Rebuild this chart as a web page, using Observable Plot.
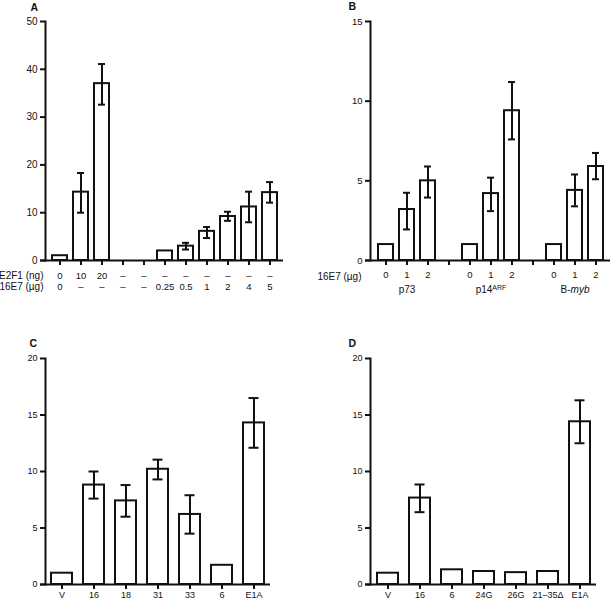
<!DOCTYPE html>
<html><head><meta charset="utf-8">
<script src="https://cdn.jsdelivr.net/npm/d3@7"></script>
<script src="https://cdn.jsdelivr.net/npm/@observablehq/plot@0.6"></script>
<style>
body{margin:0;background:#fff;}
#wrap{position:relative;width:614px;height:602px;overflow:hidden;background:#fff;}
#wrap > div, #wrap > svg{position:absolute;}
</style></head><body><div id="wrap"></div>
<script>
// ---------- Panel A ----------
const aE2F1 = ["0","10","20","–","–","–","–","–","–","–","–"];
const a16E7 = ["0","–","–","–","–","0.25","0.5","1","2","4","5"];
const aValues = [1.0, 14.3, 37.0, null, null, 2.0, 3.0, 6.1, 9.2, 11.2, 14.2];
const aLow    = [null, 10.0, 32.6, null, null, null, 2.3, 4.7, 8.3, 8.0, 12.1];
const aHigh   = [null, 18.3, 41.1, null, null, null, 3.7, 7.0, 10.2, 14.4, 16.4];
const aYTicks = [0, 10, 20, 30, 40, 50];

// ---------- Panel B ----------
const bGroups = ["p73", "p14ARF", "B-myb"];
const bDoses = ["0", "1", "2"];
const bValues = [1.0, 3.2, 5.0, 1.0, 4.2, 9.4, 1.0, 4.4, 5.9];
const bLow    = [null, 1.95, 3.95, null, 3.1, 7.6, null, 3.4, 5.1];
const bHigh   = [null, 4.25, 5.9, null, 5.2, 11.2, null, 5.4, 6.75];
const bYTicks = [0, 5, 10, 15];

// ---------- Panel C ----------
const cLabels = ["V", "16", "18", "31", "33", "6", "E1A"];
const cValues = [1.0, 8.8, 7.4, 10.2, 6.2, 1.7, 14.3];
const cLow    = [null, 7.6, 6.0, 9.3, 4.5, null, 12.1];
const cHigh   = [null, 10.0, 8.8, 11.05, 7.9, null, 16.5];

// ---------- Panel D ----------
const dLabels = ["V", "16", "6", "24G", "26G", "21–35Δ", "E1A"];
const dValues = [1.0, 7.65, 1.3, 1.15, 1.05, 1.15, 14.4];
const dLow    = [null, 6.4, null, null, null, null, 12.5];
const dHigh   = [null, 8.85, null, null, null, null, 16.3];
const cdYTicks = [0, 5, 10, 15, 20];

const FONT = '"Liberation Sans", Arial, Helvetica, sans-serif';

function makeRows(slots, values, lows, highs) {
  return slots.map((s, i) => ({slot: s, value: values[i], lo: lows[i], hi: highs[i]}));
}

function barPanel(o) {
  const bars = o.rows.filter(d => d.value != null);
  const errs = o.rows.filter(d => d.lo != null && d.hi != null);
  return Plot.plot({
    width: o.width, height: o.height,
    marginLeft: o.marginLeft, marginTop: o.marginTop,
    marginRight: o.marginRight, marginBottom: o.marginBottom,
    style: {fontFamily: FONT, fontSize: "10px", background: "transparent", overflow: "visible", color: "#111"},
    x: {domain: o.slots, paddingInner: o.paddingInner, paddingOuter: o.paddingOuter, axis: null},
    y: {domain: [0, o.yMax], axis: null},
    marks: [
      Plot.barY(bars, {x: "slot", y: "value", fill: "white", stroke: "#111", strokeWidth: 2}),
      Plot.ruleX(errs, {x: "slot", y1: "lo", y2: "hi", stroke: "#111", strokeWidth: 2}),
      Plot.tickY(errs, {x: "slot", y: "hi", insetLeft: o.capInset, insetRight: o.capInset, stroke: "#111", strokeWidth: 2}),
      Plot.tickY(errs, {x: "slot", y: "lo", insetLeft: o.capInset, insetRight: o.capInset, stroke: "#111", strokeWidth: 2}),
      Plot.axisY({ticks: o.yTicks, tickSize: 5, tickPadding: 3, strokeWidth: 2, label: null, fontSize: o.yFont}),
      Plot.frame({anchor: "left", stroke: "#111", strokeWidth: 2}),
      Plot.ruleY([0], {stroke: "#111", strokeWidth: 2, insetLeft: -5}),
      Plot.axisX({tickSize: 5, tickPadding: o.xPad, strokeWidth: 2, label: null, fontSize: o.xFont, tickFormat: o.xTickFormat}),
      Plot.text([o.letter], {frameAnchor: "top-left", lineAnchor: "middle", dx: o.letterDx, dy: o.letterDy, fontWeight: "bold", fontSize: 10.5}),
      ...(o.extra || [])
    ]
  });
}

const wrap = document.getElementById("wrap");
function place(el, left, top) { el.style.left = left + "px"; el.style.top = top + "px"; wrap.appendChild(el); }

// Panel A
const aSlots = aValues.map((_, i) => i);
const A = barPanel({
  letter: "A", letterDx: -15, letterDy: -14,
  width: 300, height: 300, marginLeft: 45, marginTop: 21, marginRight: 17, marginBottom: 40,
  slots: aSlots, rows: makeRows(aSlots, aValues, aLow, aHigh),
  yMax: 50, yTicks: aYTicks, paddingInner: 0.3, paddingOuter: 0.2, capInset: 4,
  yFont: 10, xFont: 9.5, xPad: 3,
  xTickFormat: () => "",
  extra: [
    Plot.text(aSlots, {x: d => d, text: d => aE2F1[d], frameAnchor: "bottom", lineAnchor: "middle", dy: 15, fontSize: 9.5}),
    Plot.text(aSlots, {x: d => d, text: d => a16E7[d], frameAnchor: "bottom", lineAnchor: "middle", dy: 26, fontSize: 9.5}),
    Plot.text(["E2F1 (ng)"], {frameAnchor: "bottom-left", lineAnchor: "middle", dx: -2, dy: 15, textAnchor: "end", fontSize: 10}),
    Plot.text(["16E7 (µg)"], {frameAnchor: "bottom-left", lineAnchor: "middle", dx: -2, dy: 26, textAnchor: "end", fontSize: 10})
  ]
});
place(A, 0, 0);

// Panel B
const bSlots = [];
bGroups.forEach((g, gi) => {
  bDoses.forEach(d => { bSlots.push(g + "|" + d); });
  if (gi < bGroups.length - 1) bSlots.push("sep" + gi);
});
const bBarSlots = bSlots.filter(s => !s.startsWith("sep"));
const bMidSlots = bGroups.map(g => g + "|" + bDoses[1]);
const B = barPanel({
  letter: "B", letterDx: -22, letterDy: -15,
  width: 314, height: 300, marginLeft: 70, marginTop: 21, marginRight: 4, marginBottom: 40,
  slots: bSlots, rows: makeRows(bBarSlots, bValues, bLow, bHigh),
  yMax: 15, yTicks: bYTicks, paddingInner: 0.3, paddingOuter: 0.2, capInset: 4,
  yFont: 9.5, xFont: 9.5, xPad: 6,
  xTickFormat: s => s.startsWith("sep") ? "" : s.split("|")[1],
  extra: [
    Plot.text(bMidSlots, {x: d => d, text: d => d.split("|")[0], frameAnchor: "bottom", lineAnchor: "middle", dy: 29, fontSize: 10}),
    Plot.text(["16E7 (µg)"], {frameAnchor: "bottom-left", lineAnchor: "middle", dx: -9, dy: 16, textAnchor: "end", fontSize: 10})
  ]
});
place(B, 300, 0);
// superscript / italic styling of group labels
d3.select(B).selectAll("text").each(function() {
  const t = d3.select(this);
  const s = this.textContent;
  if (s === "p14ARF") {
    t.text(null);
    t.append("tspan").text("p14");
    t.append("tspan").attr("baseline-shift", "super").attr("font-size", 7).text("ARF");
  } else if (s === "B-myb") {
    t.text(null);
    t.append("tspan").text("B-");
    t.append("tspan").attr("font-style", "italic").text("myb");
  }
});

// Panel C
const C = barPanel({
  letter: "C", letterDx: -16, letterDy: -15,
  width: 300, height: 302, marginLeft: 45, marginTop: 58, marginRight: 30, marginBottom: 18,
  slots: cLabels, rows: makeRows(cLabels, cValues, cLow, cHigh),
  yMax: 20, yTicks: cdYTicks, paddingInner: 0.35, paddingOuter: 0.17, capInset: 5.5,
  yFont: 9, xFont: 9, xPad: 2,
  xTickFormat: d => d
});
place(C, 0, 300);

// Panel D
const D = barPanel({
  letter: "D", letterDx: -22, letterDy: -15,
  width: 314, height: 302, marginLeft: 70, marginTop: 58, marginRight: 18, marginBottom: 18,
  slots: dLabels, rows: makeRows(dLabels, dValues, dLow, dHigh),
  yMax: 20, yTicks: cdYTicks, paddingInner: 0.35, paddingOuter: 0.17, capInset: 5.5,
  yFont: 9, xFont: 9, xPad: 2,
  xTickFormat: d => d
});
place(D, 300, 300);
</script></body></html>
